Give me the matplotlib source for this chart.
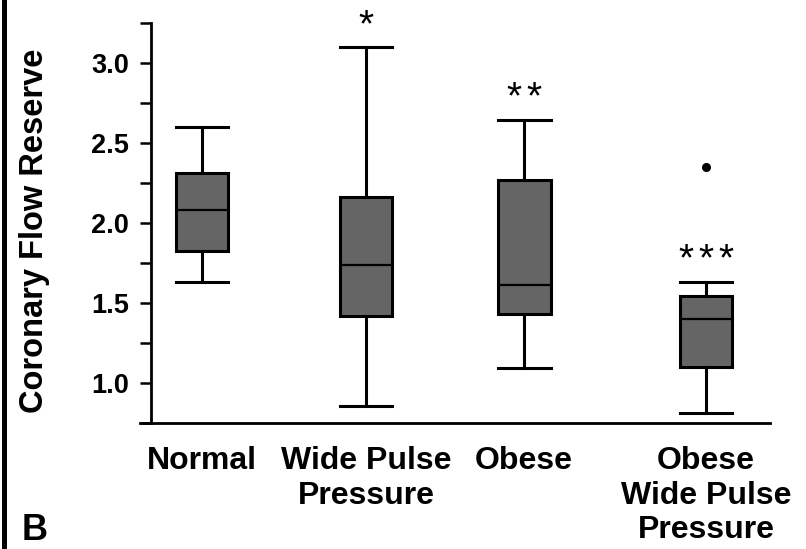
#!/usr/bin/env python3
"""
Box plots of coronary flow reserve for the four study groups (panel B).
"""

import matplotlib.pyplot as plt
from matplotlib.ticker import MultipleLocator
from matplotlib.lines import Line2D

plt.rcParams['font.family'] = ['Liberation Sans', 'DejaVu Sans']

groups = ['Normal', 'Wide Pulse\nPressure', 'Obese', 'Obese\nWide Pulse\nPressure']
whisker_low = [1.63, 0.855, 1.096, 0.81]
q1 = [1.825, 1.42, 1.434, 1.10]
medians = [2.08, 1.74, 1.615, 1.40]
q3 = [2.315, 2.16, 2.267, 1.544]
whisker_high = [2.60, 3.10, 2.646, 1.63]
outliers = [[], [], [], [2.35]]
n_stars = [0, 1, 2, 3]
star_y = [0, 3.28, 2.83, 1.82]

# horizontal placement of the groups (slightly uneven in the figure)
positions = [1.0, 1.976, 2.917, 4.0]
box_width = 0.315

fig = plt.figure(figsize=(8.06, 5.49), dpi=100)
ax = fig.add_axes([140 / 806, 1 - 423 / 549, 630 / 806, 400 / 549])

stats = []
for i, name in enumerate(groups):
    stats.append({
        'label': name,
        'whislo': whisker_low[i],
        'q1': q1[i],
        'med': medians[i],
        'q3': q3[i],
        'whishi': whisker_high[i],
        'fliers': outliers[i],
    })

lw = 2.2
ax.bxp(stats, positions=positions, widths=box_width, capwidths=box_width,
       patch_artist=True, showfliers=True,
       boxprops=dict(facecolor='#656565', edgecolor='black', linewidth=lw),
       medianprops=dict(color='black', linewidth=1.6),
       whiskerprops=dict(color='black', linewidth=lw),
       capprops=dict(color='black', linewidth=lw),
       flierprops=dict(marker='o', markerfacecolor='black', markeredgecolor='black',
                       markersize=5.5))

# significance asterisks, drawn one by one so they sit close together
pitch = 14.4  # points between asterisks
for x, n, y in zip(positions, n_stars, star_y):
    for k in range(n):
        dx = (k - (n - 1) / 2) * pitch
        ax.annotate('*', (x, y), xytext=(dx, -6), textcoords='offset points',
                    ha='center', va='center', fontsize=28, annotation_clip=False)

ax.set_xlim(0.631, 4.381)
ax.set_ylim(0.75, 3.25)

ax.spines['top'].set_visible(False)
ax.spines['right'].set_visible(False)
ax.spines['left'].set_position(('axes', 11 / 630))
ax.spines['left'].set_linewidth(2)
ax.spines['bottom'].set_linewidth(2)

ax.yaxis.set_major_locator(MultipleLocator(0.5))
ax.yaxis.set_minor_locator(MultipleLocator(0.25))
ax.set_yticks([1.0, 1.5, 2.0, 2.5, 3.0])
ax.set_yticklabels(['1.0', '1.5', '2.0', '2.5', '3.0'], fontsize=19.5, fontweight='bold')
ax.tick_params(axis='y', which='both', direction='out', length=8, width=1.8, pad=8)

ax.set_xticks(positions)
ax.set_xticklabels(groups, fontsize=23, fontweight='bold', linespacing=1.2)
ax.tick_params(axis='x', which='both', length=0, pad=16.5)

ax.set_ylabel('Coronary Flow Reserve', fontsize=23.5, fontweight='bold')
ax.yaxis.set_label_coords(-0.143, 0.48)

# panel letter and left frame line
fig.text(35 / 806, 1 - 531 / 549, 'B', fontsize=26, fontweight='bold',
         ha='center', va='center')
fig.add_artist(Line2D([3.5 / 806, 3.5 / 806], [0, 1], color='black', linewidth=3.6))

fig.savefig('out.png', dpi=100)
